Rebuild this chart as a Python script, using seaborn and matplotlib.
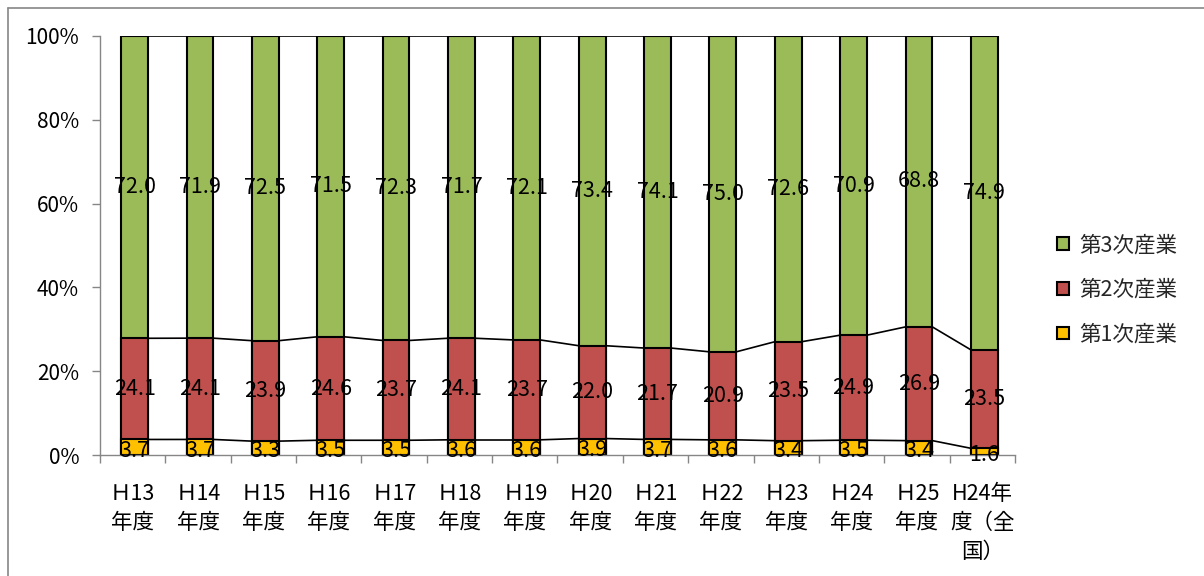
import matplotlib
matplotlib.use("Agg")
import matplotlib.pyplot as plt
import seaborn as sns
import numpy as np
import pandas as pd
from matplotlib.patches import Patch
from matplotlib.lines import Line2D

categories = ["Ｈ13\n年度", "Ｈ14\n年度", "Ｈ15\n年度", "Ｈ16\n年度", "Ｈ17\n年度",
              "Ｈ18\n年度", "Ｈ19\n年度", "Ｈ20\n年度", "Ｈ21\n年度", "Ｈ22\n年度",
              "Ｈ23\n年度", "Ｈ24\n年度", "Ｈ25\n年度", "H24年\n度（全\n国）"]
primary = [3.7, 3.7, 3.3, 3.5, 3.5, 3.6, 3.6, 3.9, 3.7, 3.6, 3.4, 3.5, 3.4, 1.6]
secondary = [24.1, 24.1, 23.9, 24.6, 23.7, 24.1, 23.7, 22.0, 21.7, 20.9, 23.5, 24.9, 26.9, 23.5]
tertiary = [72.0, 71.9, 72.5, 71.5, 72.3, 71.7, 72.1, 73.4, 74.1, 75.0, 72.6, 70.9, 68.8, 74.9]
series_names = ["第1次産業", "第2次産業", "第3次産業"]
colors = ["#FFC000", "#C0504D", "#9BBB59"]

sns.set_theme(style="white")
plt.rcParams['font.family'] = ['Noto Sans CJK JP', 'DejaVu Sans']

p = np.array(primary); s = np.array(secondary); t = np.array(tertiary)
tot = p + s + t
pp = p / tot * 100
sp = s / tot * 100
tp = t / tot * 100
c1 = pp
c2 = pp + sp
c3 = pp + sp + tp

df = pd.DataFrame({"cat": categories, "c1": c1, "c2": c2, "c3": c3})

fig = plt.figure(figsize=(12.04, 5.76), dpi=100)
ax = fig.add_axes([100/1204, 1-455/576, 915/1204, 419/576])

width = 0.41
for col, colr in zip(["c3", "c2", "c1"], [colors[2], colors[1], colors[0]]):
    sns.barplot(data=df, x="cat", y=col, color=colr, width=width, ax=ax,
                edgecolor="black", linewidth=1.5, saturation=1, errorbar=None)

off = 0.03
for patch in ax.patches:
    patch.set_x(patch.get_x() + off)

xs = np.arange(len(categories)) + off
for cum in [c1, c2, c3]:
    for i in range(len(xs) - 1):
        ax.plot([xs[i] + width/2, xs[i+1] - width/2], [cum[i], cum[i+1]],
                color="black", lw=1.2, zorder=1)

fs = 15.5
for i in range(len(xs)):
    ax.text(xs[i], c1[i]/2 - 0.8, f"{primary[i]:.1f}", ha="center", va="center", fontsize=fs, color="black", zorder=5)
    ax.text(xs[i], (c1[i]+c2[i])/2, f"{secondary[i]:.1f}", ha="center", va="center", fontsize=fs, color="black", zorder=5)
    ax.text(xs[i], (c2[i]+c3[i])/2, f"{tertiary[i]:.1f}", ha="center", va="center", fontsize=fs, color="black", zorder=5)

ax.set_xlim(-0.5, len(categories) - 0.5)
ax.set_ylim(0, 100)
ax.set_yticks([0, 20, 40, 60, 80, 100])
ax.set_yticklabels(["0%", "20%", "40%", "60%", "80%", "100%"], fontsize=15)
ax.set_xticks(np.arange(len(categories)))
ax.set_xticklabels(categories, fontsize=15.5, linespacing=1.42)
ax.set_xticks(np.arange(-0.5, len(categories)), minor=True)
ax.tick_params(axis="x", which="major", bottom=True, length=0, pad=20, colors="black")
ax.tick_params(axis="x", which="minor", bottom=True, length=6, width=1, color="#868686", direction="out")
ax.tick_params(axis="y", which="major", left=True, length=6, width=1, direction="out", pad=9, labelcolor="black", color="#868686")
ax.set_xlabel("")
ax.set_ylabel("")
for sp_ in ["top", "right"]:
    ax.spines[sp_].set_visible(False)
for sp_ in ["left", "bottom"]:
    ax.spines[sp_].set_color("#868686")
    ax.spines[sp_].set_linewidth(1)
ax.grid(False)

handles = [Patch(facecolor=colors[2], edgecolor="black", lw=1.5),
           Patch(facecolor=colors[1], edgecolor="black", lw=1.5),
           Patch(facecolor=colors[0], edgecolor="black", lw=1.5)]
fig.legend(handles, [series_names[2], series_names[1], series_names[0]],
           loc="center left", bbox_to_anchor=(1038/1204, 1-290/576), frameon=False,
           fontsize=15.5, handlelength=0.55, handleheight=0.55, labelspacing=1.05,
           handletextpad=0.45)

fig.add_artist(Line2D([8/1204, 8/1204], [0, 1-8/576], color="#868686", lw=1.2))
fig.add_artist(Line2D([8/1204, 1], [1-8/576, 1-8/576], color="#868686", lw=1.2))

fig.savefig("out.png", dpi=100)
